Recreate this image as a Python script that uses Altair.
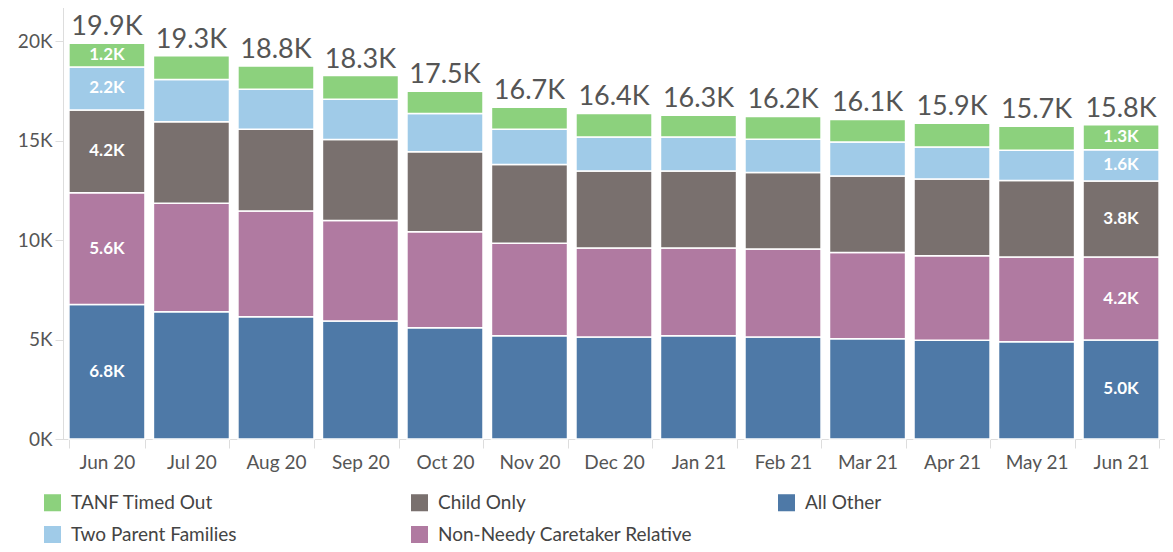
import altair as alt
import pandas as pd

months = ["Jun 20", "Jul 20", "Aug 20", "Sep 20", "Oct 20", "Nov 20", "Dec 20",
          "Jan 21", "Feb 21", "Mar 21", "Apr 21", "May 21", "Jun 21"]

all_other = [6760, 6400, 6150, 5930, 5590, 5190, 5130, 5190, 5130, 5040, 4960, 4890, 4980]
non_needy = [5620, 5460, 5310, 5060, 4830, 4660, 4480, 4420, 4420, 4340, 4250, 4260, 4170]
child_only = [4170, 4100, 4120, 4070, 4020, 3950, 3870, 3870, 3850, 3850, 3860, 3850, 3830]
two_parent = [2160, 2120, 2010, 2030, 1930, 1780, 1710, 1710, 1680, 1710, 1620, 1520, 1560]
tanf_timed_out = [1190, 1190, 1170, 1190, 1120, 1100, 1180, 1090, 1140, 1130, 1190, 1210, 1260]

stack_series = ["All Other", "Non-Needy Caretaker Relative", "Child Only",
                "Two Parent Families", "TANF Timed Out"]
stack_values = [all_other, non_needy, child_only, two_parent, tanf_timed_out]

legend_order = ["TANF Timed Out", "Child Only", "All Other",
                "Two Parent Families", "Non-Needy Caretaker Relative"]
legend_colors = ["#8CD17D", "#79706E", "#4E79A7", "#A0CBE8", "#B07AA1"]

rows = []
for i, m in enumerate(months):
    for rank, (name, vals) in enumerate(zip(stack_series, stack_values)):
        rows.append({"month": m, "series": name, "value": vals[i], "rank": rank, "mi": i})
df = pd.DataFrame(rows)

FONT = "Lato"
TXT = "#555555"

x_enc = alt.X(
    "month:N", sort=months,
    scale=alt.Scale(paddingInner=0.1, paddingOuter=0.07),
    axis=alt.Axis(title=None, labelAngle=0, labelFontSize=19, labelColor=TXT,
                  labelFont=FONT, tickBand="extent", tickSize=9, tickColor="#dddddd",
                  domainColor="#dddddd", labelPadding=5),
)

y_scale = alt.Scale(domain=[0, 22077], nice=False, zero=True)

base = alt.Chart(df).transform_stack(
    stack="value", groupby=["month"], as_=["y0", "y1"],
    sort=[alt.SortField("rank", order="ascending")],
)

bars = base.mark_bar(stroke="white", strokeWidth=1.5).encode(
    x=x_enc,
    y=alt.Y("y0:Q", scale=y_scale,
            axis=alt.Axis(title=None, values=[0, 5000, 10000, 15000, 20000],
                          labelExpr="(datum.value/1000) + 'K'", grid=False,
                          labelFontSize=19, labelColor=TXT, labelFont=FONT,
                          tickSize=8, tickColor="#dddddd", domainColor="#dddddd",
                          labelPadding=3)),
    y2="y1:Q",
    color=alt.Color(
        "series:N",
        scale=alt.Scale(domain=legend_order, range=legend_colors),
        legend=alt.Legend(title=None, orient="none", legendX=-20, legendY=493,
                          columns=3, direction="horizontal", symbolType="square",
                          symbolSize=290, symbolStrokeWidth=0, labelFontSize=19,
                          labelFont=FONT, labelColor="#444444", labelOffset=9,
                          rowPadding=12, columnPadding=84, gridAlign="all",
                          padding=0, labelLimit=400),
    ),
)

seg_text = base.transform_filter("datum.mi == 0 || datum.mi == 12").transform_calculate(
    mid="(datum.y0 + datum.y1) / 2",
    lab="format(datum.value / 1000, '.1f') + 'K'",
).mark_text(font=FONT, fontWeight="bold", fontSize=17, color="white",
            baseline="middle").encode(
    x=alt.X("month:N", sort=months),
    y=alt.Y("mid:Q", scale=y_scale),
    text="lab:N",
)

totals = alt.Chart(df).transform_aggregate(
    total="sum(value)", groupby=["month"]
).transform_calculate(
    lab="format(datum.total / 1000, '.1f') + 'K'"
).mark_text(font=FONT, fontSize=27, color=TXT, baseline="alphabetic", dy=-8).encode(
    x=alt.X("month:N", sort=months),
    y=alt.Y("total:Q", scale=y_scale),
    text="lab:N",
)

chart = alt.layer(bars, seg_text, totals).properties(
    width=1102, height=439,
    autosize=alt.AutoSizeParams(type="none"),
    padding={"left": 55, "top": -8, "right": 0, "bottom": 105},
).configure_view(stroke="#e2e2e2")

chart.save("out.html", embed_options={"renderer": "svg", "actions": False})
